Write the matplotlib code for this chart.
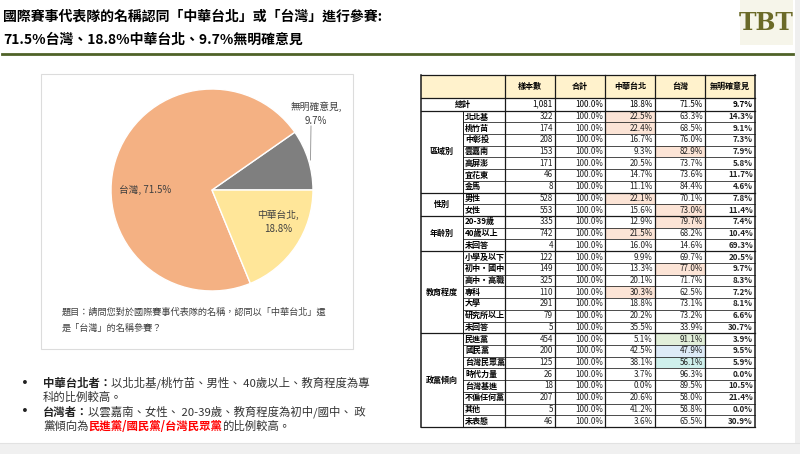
import matplotlib
matplotlib.use("Agg")
import matplotlib.pyplot as plt
from matplotlib.patches import Rectangle

plt.rcParams["font.family"] = ["Noto Sans CJK TC", "DejaVu Sans"]

# ---------------------------------------------------------------------------
# Data
# ---------------------------------------------------------------------------
TITLE_1 = "國際賽事代表隊的名稱認同「中華台北」或「台灣」進行參賽:"
TITLE_2 = "71.5%台灣、18.8%中華台北、9.7%無明確意見"

pie_labels = ["無明確意見", "台灣", "中華台北"]
pie_values = [9.7, 71.5, 18.8]
pie_colors = ["#7F7F7F", "#F4B183", "#FFE699"]

question = ["題目：請問您對於國際賽事代表隊的名稱，認同以「中華台北」還",
            "是「台灣」的名稱參賽？"]

header = ["樣本數", "合計", "中華台北", "台灣", "無明確意見"]
total_row = ["1,081", "100.0%", "18.8%", "71.5%", "9.7%"]

groups = ["區域別", "性別", "年齡別", "教育程度", "政黨傾向"]
group_sizes = [7, 2, 3, 7, 8]
sub_labels = ["北北基", "桃竹苗", "中彰投", "雲嘉南", "高屏澎", "宜花東", "金馬",
              "男性", "女性",
              "20-39歲", "40歲以上", "未回答",
              "小學及以下", "初中・國中", "高中・高職", "專科", "大學", "研究所以上", "未回答",
              "民進黨", "國民黨", "台灣民眾黨", "時代力量", "台灣基進", "不偏任何黨", "其他", "未表態"]
sample_n = [322, 174, 208, 153, 171, 46, 8,
            528, 553,
            335, 742, 4,
            122, 149, 325, 110, 291, 79, 5,
            454, 200, 125, 26, 18, 207, 5, 46]
pct_ct = [22.5, 22.4, 16.7, 9.3, 20.5, 14.7, 11.1,
          22.1, 15.6,
          12.9, 21.5, 16.0,
          9.9, 13.3, 20.1, 30.3, 18.8, 20.2, 35.5,
          5.1, 42.5, 38.1, 3.7, 0.0, 20.6, 41.2, 3.6]
pct_tw = [63.3, 68.5, 76.0, 82.9, 73.7, 73.6, 84.4,
          70.1, 73.0,
          79.7, 68.2, 14.6,
          69.7, 77.0, 71.7, 62.5, 73.1, 73.2, 33.9,
          91.1, 47.9, 56.1, 96.3, 89.5, 58.0, 58.8, 65.5]
pct_none = [14.3, 9.1, 7.3, 7.9, 5.8, 11.7, 4.6,
            7.8, 11.4,
            7.4, 10.4, 69.3,
            20.5, 9.7, 8.3, 7.2, 8.1, 6.6, 30.7,
            3.9, 9.5, 5.9, 0.0, 10.5, 21.4, 0.0, 30.9]

# highlighted cells: (row, column index in values: 2 = 中華台北, 3 = 台灣) -> colour
PEACH = "#FCE4D6"
highlights = {(0, 2): PEACH, (1, 2): PEACH, (7, 2): PEACH, (10, 2): PEACH, (15, 2): PEACH,
              (3, 3): PEACH, (8, 3): PEACH, (9, 3): PEACH, (13, 3): PEACH,
              (19, 3): "#E2EFDA", (20, 3): "#DDEBF7", (21, 3): "#CFF0EC"}

bullets = [
    [[("中華台北者：", "bold", "#222222"),
      ("以北北基/桃竹苗、男性、 40歲以上、教育程度為專", "normal", "#333333")],
     [("科的比例較高。", "normal", "#333333")]],
    [[("台灣者：", "bold", "#222222"),
      ("以雲嘉南、女性、 20-39歲、教育程度為初中/國中、 政", "normal", "#333333")],
     [("黨傾向為", "normal", "#333333"),
      ("民進黨/國民黨/台灣民眾黨", "bold", "#FF0000"),
      ("的比例較高。", "normal", "#333333")]],
]

# ---------------------------------------------------------------------------
# Canvas in pixel coordinates
# ---------------------------------------------------------------------------
fig = plt.figure(figsize=(8, 4.54), dpi=100)
ax = fig.add_axes([0, 0, 1, 1])
ax.set_xlim(0, 800)
ax.set_ylim(454, 0)
ax.axis("off")
ax.set_zorder(3)

# slide frame strips
ax.add_patch(Rectangle((795, 0), 5, 454, color="#EFEFEF", lw=0))
ax.add_patch(Rectangle((0, 443), 800, 11, color="#F0F0F0", lw=0))
ax.plot([0, 800], [443, 443], color="#E2E2E2", lw=0.8)

# title
ax.text(3, 17, TITLE_1, fontsize=10, fontweight="bold", va="center", ha="left")
ax.text(3, 40, TITLE_2, fontsize=10, fontweight="bold", va="center", ha="left")
ax.plot([2, 793], [53.5, 53.5], color="#4F6228", lw=2)

# logo
ax.add_patch(Rectangle((740, 0), 53, 45, color="#F6F5EA", lw=0))
ax.text(766, 23, "TBT", fontsize=17, fontweight="bold", family="DejaVu Serif",
        color="#6B6A28", ha="center", va="center")

# ---------------------------------------------------------------------------
# Pie
# ---------------------------------------------------------------------------
ax.add_patch(Rectangle((41, 74), 312, 275, fill=False, edgecolor="#DCDCDC", lw=0.8))
cx, cy, r = 212, 190, 103
pax = fig.add_axes([(cx - r) / 800, (454 - cy - r) / 454, 2 * r / 800, 2 * r / 454])
pax.set_zorder(1)
pax.pie(pie_values, colors=pie_colors, startangle=0, counterclock=True, radius=1,
        wedgeprops={"edgecolor": "white", "linewidth": 1})
pax.set_xlim(-1.02, 1.02)
pax.set_ylim(-1.02, 1.02)
pax.axis("off")

lab_color = "#404040"
ax.text(145, 190, f"{pie_labels[1]}, {pie_values[1]}%", fontsize=7, color=lab_color,
        ha="center", va="center")
ax.text(278, 222, f"{pie_labels[2]},\n{pie_values[2]}%", fontsize=7, color=lab_color,
        ha="center", va="center", linespacing=1.5)
ax.text(316, 114, f"{pie_labels[0]},\n{pie_values[0]}%", fontsize=7, color=lab_color,
        ha="center", va="center", linespacing=1.5)
ax.plot([311, 310.5], [126, 160], color="#8C8C8C", lw=0.6)

ax.text(62, 312, question[0], fontsize=6.6, color=lab_color, ha="left", va="center")
ax.text(62, 328, question[1], fontsize=6.6, color=lab_color, ha="left", va="center")

# ---------------------------------------------------------------------------
# Bullets (mixed styling)
# ---------------------------------------------------------------------------
renderer = fig.canvas.get_renderer()


def draw_runs(x, y, runs, size=8.2):
    for txt, weight, color in runs:
        t = ax.text(x, y, txt, fontsize=size, fontweight=weight, color=color,
                    ha="left", va="center")
        bb = t.get_window_extent(renderer=renderer)
        x += bb.width  # 1 data unit == 1 px


line_y = [383, 397, 412, 426]
k = 0
for bullet in bullets:
    ax.text(25, line_y[k], "•", fontsize=9.5, color="#222222", ha="center", va="center",
            family="DejaVu Sans")
    for runs in bullet:
        draw_runs(43, line_y[k], runs)
        k += 1

# ---------------------------------------------------------------------------
# Table
# ---------------------------------------------------------------------------
col_x = [421, 463, 505, 555, 605, 655, 705, 755]
y_head, y_tot, y_body = 75, 98, 110.5
rh = (427 - y_body) / len(sub_labels)
y_end = y_body + rh * len(sub_labels)
fs = 5.8

ax.add_patch(Rectangle((col_x[0], y_head), col_x[-1] - col_x[0], y_tot - y_head,
                       facecolor="#FFF2CC", lw=0))
for j, h in enumerate(header):
    ax.text((col_x[j + 2] + col_x[j + 3]) / 2, (y_head + y_tot) / 2, h, fontsize=fs,
            fontweight="bold", ha="center", va="center")

ym = (y_tot + y_body) / 2
ax.text((col_x[0] + col_x[2]) / 2, ym, "總計", fontsize=fs, fontweight="bold",
        ha="center", va="center")
for j, v in enumerate(total_row):
    ax.text(col_x[j + 3] - 2, ym, v, fontsize=fs, ha="right", va="center",
            fontweight="bold" if j == 4 else "normal")

for i, lab in enumerate(sub_labels):
    top = y_body + i * rh
    mid = top + rh / 2
    vals = [f"{sample_n[i]:,}", "100.0%", f"{pct_ct[i]:.1f}%", f"{pct_tw[i]:.1f}%",
            f"{pct_none[i]:.1f}%"]
    for j, v in enumerate(vals):
        if (i, j) in highlights:
            ax.add_patch(Rectangle((col_x[j + 2], top), col_x[j + 3] - col_x[j + 2], rh,
                                   facecolor=highlights[(i, j)], lw=0))
        ax.text(col_x[j + 3] - 2, mid, v, fontsize=fs, ha="right", va="center",
                color="#222222", fontweight="bold" if j == 4 else "normal")
    ax.text(col_x[1] + 2, mid, lab, fontsize=fs, fontweight="bold", ha="left", va="center")

# grid lines
lc = "#1A1A1A"
start = 0
for g, size in zip(groups, group_sizes):
    top = y_body + start * rh
    bot = y_body + (start + size) * rh
    ax.text((col_x[0] + col_x[1]) / 2, (top + bot) / 2, g, fontsize=fs, fontweight="bold",
            ha="center", va="center")
    for s in range(1, size):
        yy = top + s * rh
        ax.plot([col_x[1], col_x[-1]], [yy, yy], color=lc, lw=0.55)
    ax.plot([col_x[0], col_x[-1]], [bot, bot], color=lc, lw=0.9)
    start += size

for yy in [y_head, y_tot, y_body]:
    ax.plot([col_x[0], col_x[-1]], [yy, yy], color=lc, lw=0.9)
ax.plot([col_x[1], col_x[1]], [y_body, y_end], color=lc, lw=0.7)
for xx in col_x[2:-1]:
    ax.plot([xx, xx], [y_head, y_end], color=lc, lw=0.9)
for xx in [col_x[0], col_x[-1]]:
    ax.plot([xx, xx], [y_head, y_end], color=lc, lw=1.1)

fig.savefig("out.png", dpi=100)
